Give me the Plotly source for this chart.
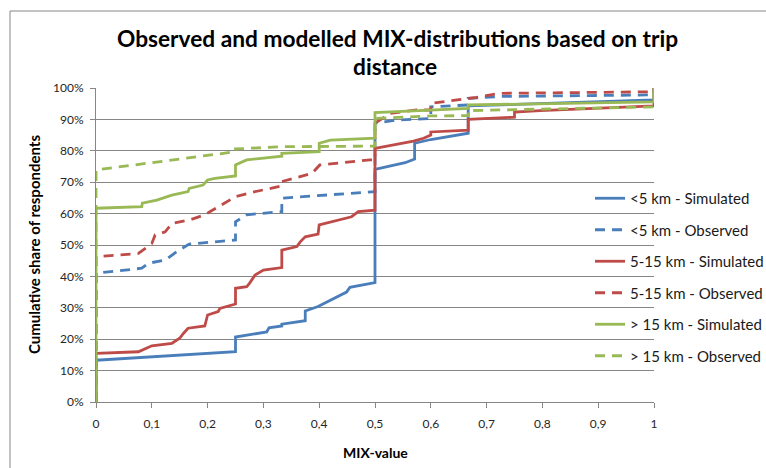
import plotly.graph_objects as go

# Cumulative share of respondents (%) by MIX-value, per distance band.
# Repeated x values mark the vertical steps of each distribution.
lt5_sim_x = [0, 0, 0.25, 0.25, 0.306, 0.31, 0.333, 0.333, 0.375, 0.375, 0.398, 0.449, 0.455,
             0.5, 0.5, 0.536, 0.554, 0.571, 0.571, 0.6, 0.667, 0.667, 1, 1]
lt5_sim_y = [0, 13.3, 16.0, 20.7, 22.3, 23.6, 24.2, 24.8, 25.9, 29.0, 30.4, 35.0, 36.5,
             38.0, 74.1, 75.5, 76.2, 77.4, 82.4, 83.6, 85.6, 94.3, 96.2, 100]

lt5_obs_x = [0, 0, 0.082, 0.094, 0.124, 0.145, 0.167, 0.25, 0.25, 0.27, 0.327, 0.333, 0.333,
             0.491, 0.5, 0.5, 0.539, 0.6, 0.6, 0.667, 0.667, 0.724, 1, 1]
lt5_obs_y = [0, 41.0, 42.6, 44.2, 45.2, 47.9, 50.3, 51.6, 57.4, 59.6, 60.6, 60.6, 64.9,
             67.0, 67.0, 88.8, 89.8, 90.3, 94.0, 94.6, 96.7, 97.3, 97.8, 100]

mid_sim_x = [0, 0, 0.076, 0.1, 0.136, 0.15, 0.157, 0.165, 0.195, 0.2, 0.219, 0.222, 0.25, 0.25,
             0.27, 0.275, 0.285, 0.3, 0.333, 0.333, 0.36, 0.366, 0.375, 0.398, 0.4, 0.458, 0.47,
             0.5, 0.5, 0.551, 0.569, 0.587, 0.6, 0.6, 0.667, 0.667, 0.75, 0.75, 0.796, 1, 1]
mid_sim_y = [0, 15.5, 16.0, 17.9, 18.7, 20.3, 21.9, 23.5, 24.2, 27.7, 28.8, 29.8, 31.2, 36.2,
             36.7, 37.8, 40.4, 42.0, 42.8, 48.4, 49.5, 51.0, 52.6, 53.5, 56.4, 59.0, 60.6,
             61.1, 80.8, 82.4, 83.1, 84.0, 85.0, 86.0, 86.6, 90.0, 90.7, 92.3, 92.8, 94.3, 100]

mid_obs_x = [0, 0, 0.076, 0.1, 0.106, 0.124, 0.136, 0.168, 0.195, 0.204, 0.25, 0.28, 0.333, 0.333,
             0.387, 0.401, 0.491, 0.5, 0.5, 0.527, 0.575, 0.6, 0.6, 0.682, 0.724, 1, 1]
mid_obs_y = [0, 46.3, 47.3, 50.5, 53.2, 54.2, 56.9, 58.0, 59.6, 60.6, 65.4, 66.8, 68.8, 70.2,
             72.8, 75.5, 77.1, 77.1, 88.8, 91.9, 93.0, 93.0, 95.1, 97.0, 98.3, 98.8, 100]

gt15_sim_x = [0, 0, 0.082, 0.083, 0.109, 0.136, 0.165, 0.167, 0.192, 0.2, 0.213, 0.25, 0.25, 0.27,
              0.333, 0.333, 0.4, 0.4, 0.42, 0.5, 0.5, 0.667, 0.667, 1, 1]
gt15_sim_y = [0, 61.7, 62.2, 63.3, 64.3, 65.9, 67.0, 68.0, 69.1, 70.7, 71.2, 72.0, 75.5, 77.1,
              78.3, 79.2, 79.7, 82.4, 83.4, 84.0, 92.2, 93.5, 94.6, 95.6, 100]

gt15_obs_x = [0, 0, 0.25, 0.25, 0.336, 0.4, 0.5, 0.5, 0.6, 0.667, 0.667, 1, 1]
gt15_obs_y = [0, 73.9, 79.7, 80.6, 81.3, 81.3, 81.5, 90.3, 91.1, 91.2, 92.8, 94.0, 100]

series_names = ["<5 km - Simulated", "<5 km - Observed",
                "5-15 km - Simulated", "5-15 km - Observed",
                "> 15 km - Simulated", "> 15 km - Observed"]

x_tick_vals = [0, 0.1, 0.2, 0.3, 0.4, 0.5, 0.6, 0.7, 0.8, 0.9, 1]
x_tick_text = ["0", "0,1", "0,2", "0,3", "0,4", "0,5", "0,6", "0,7", "0,8", "0,9", "1"]
y_tick_vals = [0, 10, 20, 30, 40, 50, 60, 70, 80, 90, 100]
y_tick_text = ["0%", "10%", "20%", "30%", "40%", "50%", "60%", "70%", "80%", "90%", "100%"]

BLUE = "#4A7EBB"
RED = "#BE4B48"
GREEN = "#98B954"
GRID = "#868686"
FONT = "Lato"

data = [
    (lt5_sim_x, lt5_sim_y, BLUE, "solid"),
    (lt5_obs_x, lt5_obs_y, BLUE, "10px,7px"),
    (mid_sim_x, mid_sim_y, RED, "solid"),
    (mid_obs_x, mid_obs_y, RED, "10px,7px"),
    (gt15_sim_x, gt15_sim_y, GREEN, "solid"),
    (gt15_obs_x, gt15_obs_y, GREEN, "10px,7px"),
]

fig = go.Figure()
for i, (xs, ys, color, dash) in enumerate(data):
    fig.add_trace(go.Scatter(
        x=xs, y=ys, mode="lines", name=series_names[i],
        legendgroup=f"g{i}", cliponaxis=False,
        line=dict(color=color, width=2.8, dash=dash),
    ))

W, H = 766, 468
L, R, T, B = 96, 112, 88, 66


def px_x(px):
    return (px - L) / (W - L - R)


def px_y(py):
    return (H - B - py) / (H - T - B)


fig.update_layout(
    width=W, height=H,
    margin=dict(l=L, r=R, t=T, b=B, pad=0, autoexpand=False),
    paper_bgcolor="white", plot_bgcolor="white",
    font=dict(family=FONT, size=12, color="#262626"),
    showlegend=True,
    legend=dict(
        x=px_x(590), y=px_y(182), xanchor="left", yanchor="top",
        font=dict(family=FONT, size=15, color="#1a1a1a"),
        traceorder="grouped", tracegroupgap=9,
        bgcolor="rgba(0,0,0,0)", borderwidth=0,
    ),
    xaxis=dict(
        range=[0, 1], tickvals=x_tick_vals, ticktext=x_tick_text,
        showgrid=False, zeroline=False, showline=True, linecolor=GRID, linewidth=1,
        ticks="outside", ticklen=5, tickcolor=GRID, tickwidth=1,
        ticklabelstandoff=6,
        tickfont=dict(family=FONT, size=12, color="#262626"),
    ),
    yaxis=dict(
        range=[0, 100], tickvals=y_tick_vals, ticktext=y_tick_text,
        showgrid=True, gridcolor=GRID, gridwidth=1,
        zeroline=False, showline=True, linecolor=GRID, linewidth=1,
        ticks="outside", ticklen=5, tickcolor=GRID, tickwidth=1,
        ticklabelstandoff=4,
        tickfont=dict(family=FONT, size=12, color="#262626"),
    ),
    annotations=[
        dict(text="<b>Observed and modelled MIX-distributions based on trip</b>",
             x=px_x(397), y=px_y(38), xref="paper", yref="paper",
             xanchor="center", yanchor="middle", showarrow=False,
             font=dict(family=FONT, size=22.7, color="black")),
        dict(text="<b>distance</b>",
             x=px_x(395), y=px_y(67), xref="paper", yref="paper",
             xanchor="center", yanchor="middle", showarrow=False,
             font=dict(family=FONT, size=22.7, color="black")),
        dict(text="<b>MIX-value</b>",
             x=px_x(375), y=px_y(452), xref="paper", yref="paper",
             xanchor="center", yanchor="middle", showarrow=False,
             font=dict(family=FONT, size=14, color="black")),
        dict(text="<b>Cumulative share of respondents</b>",
             x=px_x(34), y=px_y(245), xref="paper", yref="paper",
             xanchor="center", yanchor="middle", showarrow=False, textangle=-90,
             font=dict(family=FONT, size=15, color="black")),
    ],
    shapes=[
        dict(type="line", xref="paper", yref="paper",
             x0=px_x(10), x1=px_x(10), y0=px_y(480), y1=px_y(11),
             line=dict(color=GRID, width=1)),
        dict(type="line", xref="paper", yref="paper",
             x0=px_x(10), x1=px_x(780), y0=px_y(11), y1=px_y(11),
             line=dict(color=GRID, width=1)),
    ],
)

fig.write_html("out.html")
